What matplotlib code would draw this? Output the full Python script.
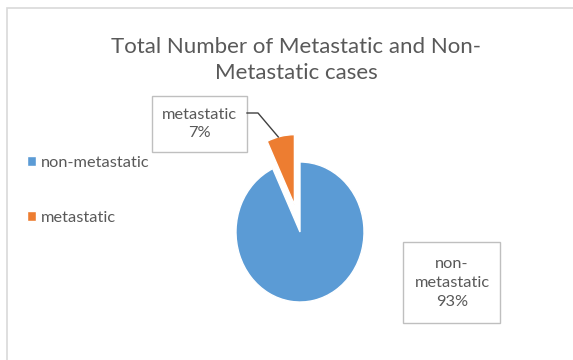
import numpy as np
import matplotlib
matplotlib.use("Agg")
import matplotlib.pyplot as plt
from matplotlib.patches import Rectangle

plt.rcParams['font.family'] = ['Lato', 'DejaVu Sans']

labels = ["non-metastatic", "metastatic"]
shares = [93, 7]
box_texts = ["non-\nmetastatic\n93%", "metastatic\n7%"]
colors = ["#5B9BD5", "#ED7D31"]
title = "Total Number of Metastatic and Non-\nMetastatic cases"

W, H = 573, 360
fig = plt.figure(figsize=(W / 100, H / 100), dpi=100)


def fx(x):
    return x / W


def fy(y):
    return 1 - y / H


# chart border (runs off the right and bottom edges)
fig.patches.append(Rectangle((fx(7), fy(400)), fx(600), fy(8) - fy(400),
                             transform=fig.transFigure, fill=False,
                             edgecolor="#D9D9D9", linewidth=1.2))

# axes sized so that one unit = 64 px wide, 70 px tall, pie centre at (300, 232)
ax = fig.add_axes([fx(300 - 96), fy(232 + 105), fx(192), 210 / H])
wedges, _ = ax.pie(shares, colors=colors, startangle=90, counterclock=False,
                   explode=[0, 0.4], wedgeprops=dict(edgecolor="white", linewidth=1))
ax.set_xlim(-1.5, 1.5)
ax.set_ylim(-1.5, 1.5)
ax.set_aspect("auto")
ax.axis("off")

fig.text(fx(296), fy(60), title, ha="center", va="center", fontsize=16,
         color="#595959", linespacing=1.42)

# data label boxes
tc = "#595959"
fs = 11.8
fig.patches.append(Rectangle((fx(403), fy(323)), fx(97), fy(242) - fy(323),
                             transform=fig.transFigure, fill=True, facecolor="white",
                             edgecolor="#BFBFBF", linewidth=1))
fig.text(fx(452), fy(283), box_texts[0], ha="center", va="center", fontsize=fs,
         color=tc, linespacing=1.45)
fig.patches.append(Rectangle((fx(152), fy(152)), fx(95), fy(96) - fy(152),
                             transform=fig.transFigure, fill=True, facecolor="white",
                             edgecolor="#BFBFBF", linewidth=1))
fig.text(fx(199), fy(124), box_texts[1], ha="center", va="center", fontsize=fs,
         color=tc, linespacing=1.35)

# leader line from the small box to the exploded wedge
w = wedges[1]
ang = np.deg2rad((w.theta1 + w.theta2) / 2 + 2)
tip = (w.center[0] + w.r * np.cos(ang), w.center[1] + w.r * np.sin(ang))
pt = fig.transFigure.inverted().transform(ax.transData.transform(tip))
fig.lines.append(plt.Line2D([fx(247), fx(258), pt[0]], [fy(113), fy(113), pt[1]],
                            transform=fig.transFigure, color="#404040", linewidth=1))

fig.legend(wedges, labels, loc="upper left", bbox_to_anchor=(fx(12), fy(141)),
           frameon=False, fontsize=fs, labelcolor=tc, handlelength=0.55,
           handleheight=0.55, handletextpad=0.3, labelspacing=2.5)

fig.savefig("out.png", dpi=100)
